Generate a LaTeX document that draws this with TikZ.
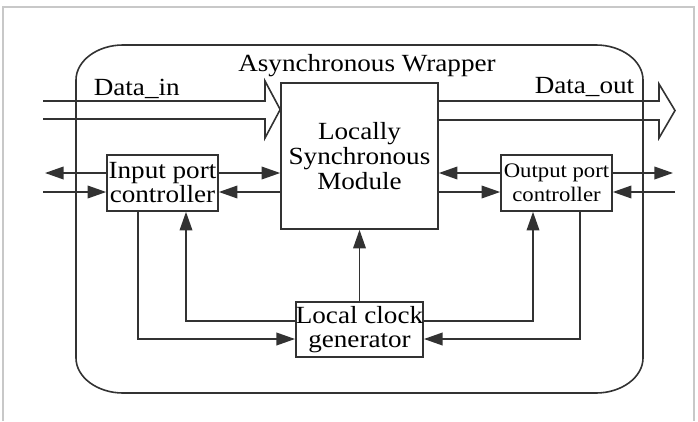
\documentclass[tikz,border=0pt]{standalone}
\usepackage{fontspec}
\setmainfont{Liberation Serif}[FakeStretch=1.1]
\usetikzlibrary{arrows.meta}

\definecolor{ink}{RGB}{50,50,50}
\definecolor{frame}{RGB}{200,200,200}

\tikzset{every picture/.style={line width=1.2pt},
  box/.style={draw=ink,fill=white,inner sep=0pt,align=center,text=black,
    font=\fontsize{18.5}{18}\selectfont},
  sig/.style={draw=ink,-{Triangle[length=14pt,width=9.5pt]}},
  bus/.style={draw=ink,line join=miter},
  lbl/.style={inner sep=0pt,text=black,font=\fontsize{18.5}{18}\selectfont}}

\begin{document}
\begin{tikzpicture}[x=0.75pt,y=0.75pt,yscale=-1,xscale=1]
	\useasboundingbox (0,0) rectangle (698,421);
	
	%Outer frame
	\draw [frame,line width=1.5pt] (3,421) -- (3,7) -- (694,7) -- (694,421) ;
	%Wrapper
	\draw [ink] (123,45) -- (596,45) .. controls (622,45) and (643,61) .. (643,80) -- (643,358) .. controls (643,377) and (622,393) .. (596,393) -- (123,393) .. controls (97,393) and (76,377) .. (76,358) -- (76,80) .. controls (76,61) and (97,45) .. (123,45) -- cycle ;
	
	%Blocks
	\node [box,minimum width=117.75pt,minimum height=109.5pt,font=\fontsize{18.5}{18.75}\selectfont] (lsm) at (359.5,156) {Locally\\Synchronous\\Module};
	\node [box,minimum width=83.25pt,minimum height=42pt] (ipc) at (162.5,183) {Input port\\controller};
	\node [box,minimum width=83.25pt,minimum height=42pt,font=\fontsize{15.5}{18}\selectfont] (opc) at (556.5,183) {Output port\\controller};
	\node [box,minimum width=95.25pt,minimum height=41.25pt] (clk) at (359.5,329.5) {Local clock\\generator};
	
	%Row and column helpers
	\coordinate (rowA) at (0,173);
	\coordinate (rowB) at (0,192);
	\coordinate (lowA) at (0,321);
	\coordinate (lowB) at (0,339);
	\coordinate (colA) at (138,0);
	\coordinate (colB) at (186,0);
	\coordinate (colC) at (533,0);
	\coordinate (colD) at (580,0);
	\coordinate (inA) at (45,173);
	\coordinate (inB) at (43,192);
	\coordinate (outA) at (673,173);
	\coordinate (outB) at (675,192);
	
	%Data buses
	\draw [bus] (43,101) -- (265,101) -- (265,81) -- (lsm.west |- 0,109.5) -- (265,138) -- (265,119) -- (43,119) ;
	\draw [bus] (lsm.east |- 0,101) -- (659,101) -- (659,84) -- (675,110.5) -- (659,138) -- (659,120) -- (lsm.east |- 0,120) ;
	
	%Input port signals
	\draw [sig] (ipc.west |- rowA) -- (inA) ;
	\draw [sig] (inB) -- (ipc.west |- rowB) ;
	\draw [sig] (ipc.east |- rowA) -- (lsm.west |- rowA) ;
	\draw [sig] (lsm.west |- rowB) -- (ipc.east |- rowB) ;
	%Output port signals
	\draw [sig] (opc.west |- rowA) -- (lsm.east |- rowA) ;
	\draw [sig] (lsm.east |- rowB) -- (opc.west |- rowB) ;
	\draw [sig] (opc.east |- rowA) -- (outA) ;
	\draw [sig] (outB) -- (opc.east |- rowB) ;
	
	%Clock connections
	\draw [sig] (ipc.south -| colA) |- (clk.west |- lowB) ;
	\draw [sig] (clk.west |- lowA) -| (ipc.south -| colB) ;
	\draw [sig] (clk.north) -- (lsm.south) ;
	\draw [sig] (clk.east |- lowA) -| (opc.south -| colC) ;
	\draw [sig] (opc.south -| colD) |- (clk.east |- lowB) ;
	
	% Text Node
	\node [lbl,anchor=base] (title) at (367,71) {Asynchronous Wrapper};
	% Text Node
	\node [lbl,anchor=base west] (din) at (93,95) {Data\_in};
	% Text Node
	\node [lbl,anchor=base east] (dout) at (635,93) {Data\_out};
	
\end{tikzpicture}
\end{document}
